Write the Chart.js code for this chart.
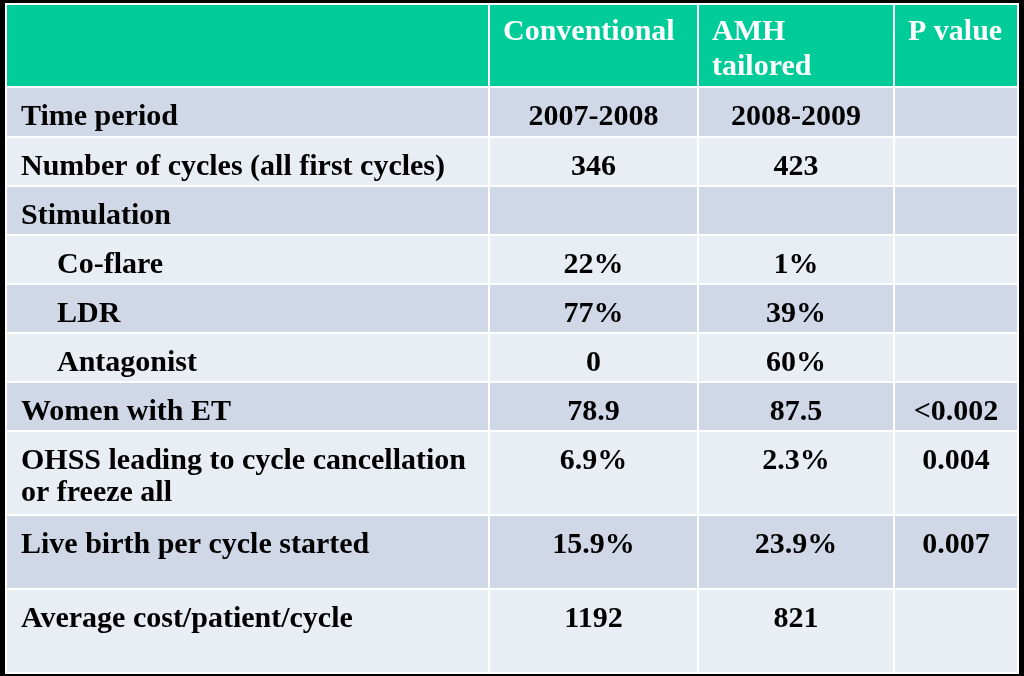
<!DOCTYPE html>
<html>
<head>
<meta charset="utf-8">
<script src="https://cdn.jsdelivr.net/npm/chart.js@4/dist/chart.umd.min.js"></script>
<style>
  html, body { margin: 0; padding: 0; background: #000; }
  #wrap { width: 1024px; height: 676px; }
</style>
</head>
<body>
<div id="wrap"><canvas id="table" width="1024" height="676"></canvas></div>
<script>
// table content
const headers = ['', 'Conventional', 'AMH\ntailored', 'P value'];
const rowLabels = [
    'Time period',
    'Number of cycles (all first cycles)',
    'Stimulation',
    'Co-flare',
    'LDR',
    'Antagonist',
    'Women with ET',
    'OHSS leading to cycle cancellation\nor freeze all',
    'Live birth per cycle started',
    'Average cost/patient/cycle'
];
const subRows = [false, false, false, true, true, true, false, false, false, false];
const conventional = ['2007-2008', '346', '', '22%', '77%', '0', '78.9', '6.9%', '15.9%', '1192'];
const amhTailored = ['2008-2009', '423', '', '1%', '39%', '60%', '87.5', '2.3%', '23.9%', '821'];
const pValues = ['', '', '', '', '', '', '<0.002', '0.004', '0.007', ''];

// layout (in scale units = pixels)
const colEdges = [6, 489, 698, 894, 1018];
const rowEdges = [4, 87, 137, 186, 235, 284, 333, 382, 431, 515, 589, 673];

const headerColor = '#00cc99';
const darkRow = '#d0d8e8';
const lightRow = '#e9edf4';
const family = '"Liberation Serif", "Times New Roman", Times, serif';
const bodyFont = 'bold 30px ' + family;
const headFont = 'bold 30px ' + family;

const tablePlugin = {
    id: 'tableCells',
    beforeDatasetsDraw(chart) {
        const ctx = chart.ctx;
        const x = chart.scales.x, y = chart.scales.y;
        const px = v => x.getPixelForValue(v);
        const py = v => y.getPixelForValue(v);
        ctx.save();
        // white grid lines
        ctx.fillStyle = '#ffffff';
        ctx.fillRect(px(colEdges[0]) - 1, py(rowEdges[0]) - 1,
            px(colEdges[4]) - px(colEdges[0]) + 2, py(rowEdges[11]) - py(rowEdges[0]) + 2);

        const columns = [rowLabels, conventional, amhTailored, pValues];
        for (let r = 0; r < rowEdges.length - 1; r++) {
            const y0 = py(rowEdges[r]), y1 = py(rowEdges[r + 1]);
            for (let c = 0; c < 4; c++) {
                const x0 = px(colEdges[c]), x1 = px(colEdges[c + 1]);
                if (r == 0) ctx.fillStyle = headerColor;
                else ctx.fillStyle = (r - 1) % 2 == 0 ? darkRow : lightRow;
                ctx.fillRect(x0 + 1, y0 + 1, x1 - x0 - 2, y1 - y0 - 2);

                let text, align, tx, font, color, lh, top;
                if (r == 0) {
                    text = headers[c];
                    align = 'left';
                    tx = x0 + 14;
                    font = headFont;
                    color = '#ffffff';
                    lh = 35;
                    top = 36;
                } else {
                    text = columns[c][r - 1];
                    font = bodyFont;
                    color = '#000000';
                    lh = 32;
                    top = 38;
                    if (c == 0) {
                        align = 'left';
                        tx = x0 + (subRows[r - 1] ? 51 : 15);
                    } else {
                        align = 'center';
                        tx = (x0 + x1) / 2;
                    }
                }
                if (!text) continue;
                ctx.font = font;
                ctx.fillStyle = color;
                ctx.textAlign = align;
                ctx.textBaseline = 'alphabetic';
                text.split('\n').forEach((line, i) => {
                    ctx.fillText(line, tx, y0 + top + i * lh);
                });
            }
        }
        ctx.restore();
    }
};

new Chart(document.getElementById('table').getContext('2d'), {
    type: 'scatter',
    data: { datasets: [] },
    options: {
        responsive: false,
        animation: false,
        devicePixelRatio: 1,
        layout: { padding: 0 },
        plugins: { legend: { display: false }, tooltip: { enabled: false } },
        scales: {
            x: { type: 'linear', min: 0, max: 1024, display: false },
            y: { type: 'linear', min: 0, max: 676, reverse: true, display: false }
        }
    },
    plugins: [tablePlugin]
});
</script>
</body>
</html>
